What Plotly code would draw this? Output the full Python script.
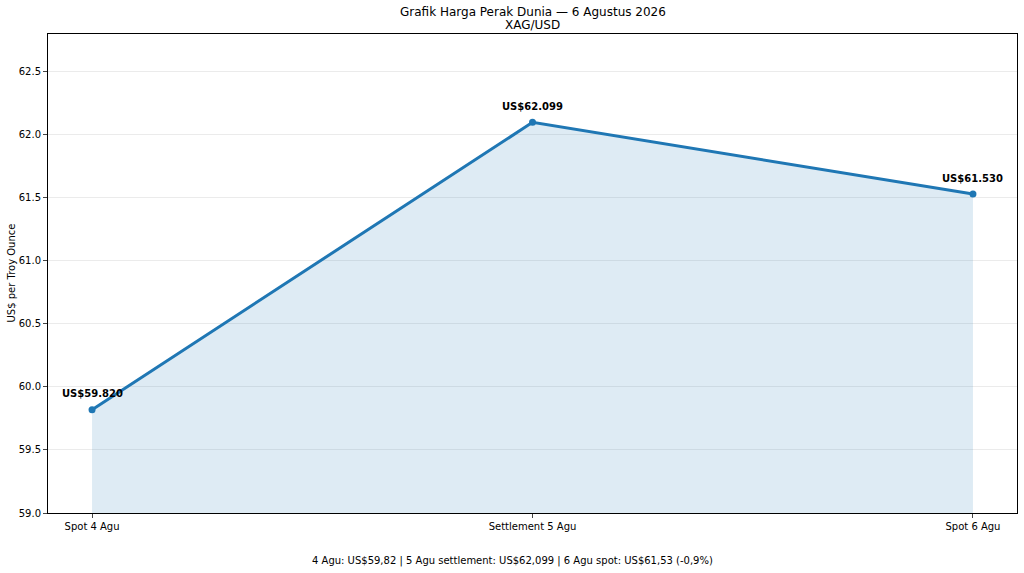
import plotly.graph_objects as go

# Silver price points (US$ per troy ounce)
labels = ['Spot 4 Agu', 'Settlement 5 Agu', 'Spot 6 Agu']
prices = [59.820, 62.099, 61.530]
price_text = ['US$59.820', 'US$62.099', 'US$61.530']
y_ticks = [59.0, 59.5, 60.0, 60.5, 61.0, 61.5, 62.0, 62.5]

blue = '#1f77b4'
x_pos = list(range(len(labels)))

fig = go.Figure()

# shaded area under the line (down to the bottom of the axis)
fig.add_trace(go.Scatter(
    x=x_pos, y=prices, mode='lines', line=dict(width=0),
    fill='tozeroy', fillcolor='rgba(31,119,180,0.15)',
    hoverinfo='skip', showlegend=False))

fig.add_trace(go.Scatter(
    x=x_pos, y=prices, mode='lines+markers',
    line=dict(color=blue, width=3), marker=dict(color=blue, size=7),
    showlegend=False, hovertemplate='%{y:.3f}<extra></extra>'))

# value labels above each point
for i, (p, t) in enumerate(zip(prices, price_text)):
    fig.add_annotation(x=i, y=p, text='<b>' + t + '</b>', showarrow=False,
                       yshift=16, font=dict(size=10, color='black'))

fig.update_layout(
    width=1024, height=573,
    margin=dict(l=48, r=7, t=34, b=60, autoexpand=False),
    paper_bgcolor='white', plot_bgcolor='white',
    font=dict(family='DejaVu Sans', size=10, color='black'),
    xaxis=dict(range=[-0.1, 2.1], tickvals=x_pos, ticktext=labels,
               showgrid=False, zeroline=False, showline=True, mirror=True,
               linecolor='black', linewidth=1, ticks='outside', ticklen=4,
               automargin=False),
    yaxis=dict(range=[59.0, 62.8], tickvals=y_ticks,
               ticktext=['%.1f' % v for v in y_ticks],
               showgrid=True, gridcolor='rgba(0,0,0,0.08)', zeroline=False,
               showline=True, mirror=True, linecolor='black', linewidth=1,
               ticks='outside', ticklen=4, automargin=False),
)

# y-axis title, placed by hand
fig.add_annotation(
    text='US$ per Troy Ounce', textangle=-90,
    xref='paper', yref='paper', x=0, y=0.5, xshift=-37,
    xanchor='center', yanchor='middle', showarrow=False,
    font=dict(size=10))

# two-line title above the plot area
fig.add_annotation(
    text='Grafik Harga Perak Dunia — 6 Agustus 2026',
    xref='paper', yref='paper', x=0.5, y=1.0, yshift=22,
    xanchor='center', yanchor='middle', showarrow=False,
    font=dict(size=12))
fig.add_annotation(
    text='XAG/USD',
    xref='paper', yref='paper', x=0.5, y=1.0, yshift=9,
    xanchor='center', yanchor='middle', showarrow=False,
    font=dict(size=12))

fig.add_annotation(
    text='4 Agu: US$59,82 | 5 Agu settlement: US$62,099 | 6 Agu spot: US$61,53 (-0,9%)',
    xref='paper', yref='paper', x=0.479, y=-0.1, xanchor='center', yanchor='middle',
    showarrow=False, font=dict(size=10))

# drop the browser's default body margin so the figure sits at the top-left corner
fig.write_html('out.html', config={'displayModeBar': False},
               post_script="document.body.style.margin='0';")
